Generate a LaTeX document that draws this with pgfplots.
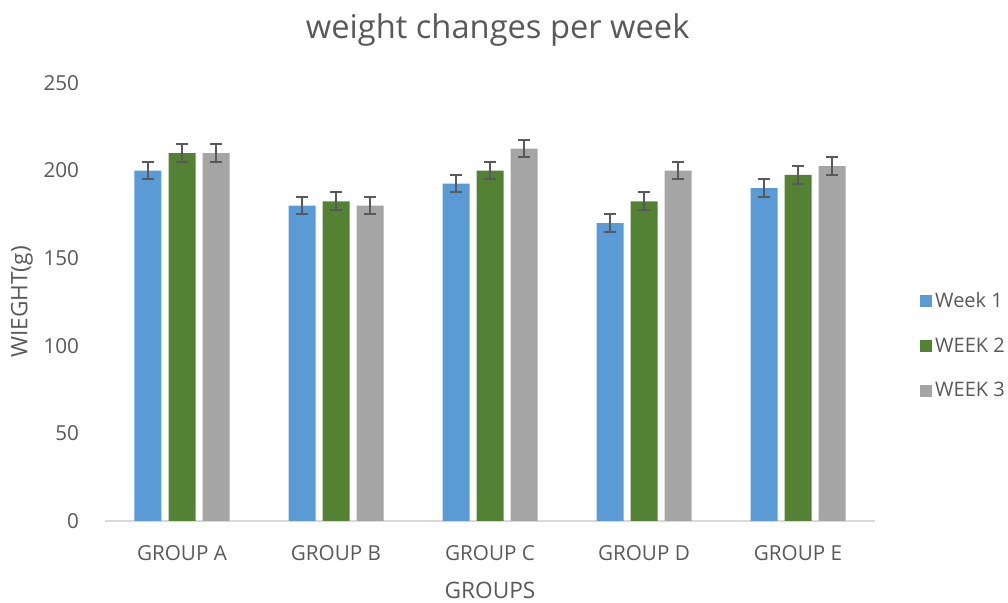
\documentclass[border=0pt]{standalone}
\usepackage{pgfplots}
\pgfplotsset{compat=1.18}
\usepackage{fontspec}
\setmainfont{Open Sans}

\definecolor{wk1}{HTML}{5B9BD5}
\definecolor{wk2}{HTML}{548235}
\definecolor{wk3}{HTML}{A5A5A5}
\definecolor{txt}{HTML}{595959}
\definecolor{axisgray}{HTML}{D9D9D9}

\begin{document}
\begin{tikzpicture}
% page box, 1008 x 602 px at 0.75pt per px
\path (0pt,0pt) rectangle (756pt,451.5pt);
\begin{axis}[
    at={(78.75pt,60.75pt)}, anchor=south west,
    scale only axis,
    width=577.5pt, height=328.5pt,
    ybar=5.25pt, bar width=20.25pt,
    xmin=-0.5, xmax=4.5,
    ymin=0, ymax=250,
    xtick=data,
    xticklabels={GROUP A,GROUP B,GROUP C,GROUP D,GROUP E},
    ytick={0,50,100,150,200,250},
    major tick length=0pt,
    axis x line*=bottom,
    axis y line*=left,
    x axis line style={axisgray, line width=1pt, -},
    y axis line style={draw=none},
    tick label style={font=\fontsize{15.5}{18}\selectfont, text=txt},
    /pgf/number format/assume math mode=true,
    xticklabel style={anchor=center, yshift=-24pt},
    yticklabel style={anchor=east, xshift=-16pt},
    xlabel={GROUPS},
    ylabel={WIEGHT(g)},
    label style={font=\fontsize{17}{20}\selectfont, text=txt},
    xlabel style={at={(axis description cs:0.5,-0.158)}, anchor=center},
    ylabel style={at={(axis description cs:-0.108,0.5)}, anchor=center},
    title={weight changes per week},
    title style={font=\fontsize{24.5}{28}\selectfont, text=txt, at={(axis description cs:0.51,1)}, anchor=center, yshift=33.5pt},
    legend style={at={(1.0587,0.4)}, anchor=west, draw=none, fill=none,
        inner xsep=0pt,
        font=\fontsize{15}{18}\selectfont, text=txt, row sep=17pt,
        legend cell align=left},
    legend image code/.code={\fill[#1] (-5.75pt,-4.5pt) rectangle (3.25pt,4.5pt);},
    error bars/y dir=both,
    error bars/y explicit,
    error bars/error bar style={txt, line width=1.5pt},
    error bars/error mark options={rotate=90, mark size=4.5pt, line width=1.5pt, txt},
    clip=false,
]
\addplot[fill=wk1, draw=none] coordinates {
    (0,200) +- (0,5) (1,180) +- (0,5) (2,192.5) +- (0,5) (3,170) +- (0,5) (4,190) +- (0,5)};
\addlegendentry{Week 1}
\addplot[fill=wk2, draw=none] coordinates {
    (0,210) +- (0,5) (1,182.5) +- (0,5) (2,200) +- (0,5) (3,182.5) +- (0,5) (4,197.5) +- (0,5)};
\addlegendentry{WEEK 2}
\addplot[fill=wk3, draw=none] coordinates {
    (0,210) +- (0,5) (1,180) +- (0,5) (2,212.5) +- (0,5) (3,200) +- (0,5) (4,202.5) +- (0,5)};
\addlegendentry{WEEK 3}
\end{axis}
\end{tikzpicture}
\end{document}
